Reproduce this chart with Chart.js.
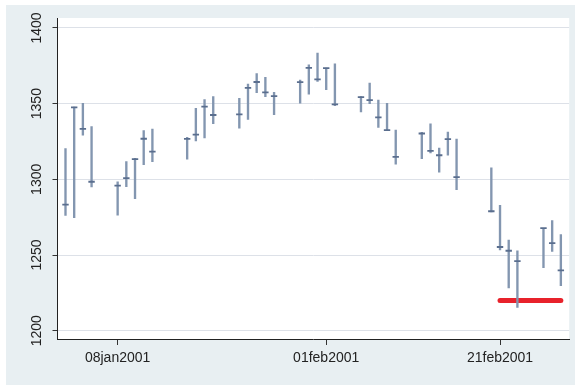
<!DOCTYPE html>
<html>
<head>
<meta charset="utf-8">
<script src="https://cdn.jsdelivr.net/npm/chart.js@4.4.1/dist/chart.umd.min.js"></script>
<style>
  html, body { margin: 0; padding: 0; background: #fff; }
  #wrap { position: absolute; left: 6px; top: 5px; width: 569px; height: 380px; background: #e8eff2; }
</style>
</head>
<body>
<div id="wrap"><canvas id="chart"></canvas></div>
<script>
// trading days, Jan-Feb 2001
const dates = [
  '2001-01-02', '2001-01-03', '2001-01-04', '2001-01-05',
  '2001-01-08', '2001-01-09', '2001-01-10', '2001-01-11', '2001-01-12',
  '2001-01-16', '2001-01-17', '2001-01-18', '2001-01-19',
  '2001-01-22', '2001-01-23', '2001-01-24', '2001-01-25', '2001-01-26',
  '2001-01-29', '2001-01-30', '2001-01-31', '2001-02-01', '2001-02-02',
  '2001-02-05', '2001-02-06', '2001-02-07', '2001-02-08', '2001-02-09',
  '2001-02-12', '2001-02-13', '2001-02-14', '2001-02-15', '2001-02-16',
  '2001-02-20', '2001-02-21', '2001-02-22', '2001-02-23',
  '2001-02-26', '2001-02-27', '2001-02-28'
];
const high = [
  1320.3, 1347.8, 1350.2, 1334.8,
  1298.4, 1311.7, 1313.8, 1332.2, 1333.2,
  1327.8, 1346.9, 1352.7, 1354.6,
  1353.6, 1362.9, 1369.8, 1367.4, 1357.5,
  1365.5, 1375.7, 1383.4, 1373.5, 1376.4,
  1354.6, 1363.6, 1352.3, 1350.3, 1332.5,
  1331.0, 1336.6, 1320.7, 1331.3, 1326.6,
  1307.6, 1282.8, 1259.9, 1252.8,
  1267.7, 1272.8, 1263.5
];
const low = [
  1276.1, 1274.6, 1329.1, 1295.0,
  1276.3, 1295.1, 1287.3, 1309.7, 1311.6,
  1313.3, 1325.4, 1327.4, 1336.7,
  1333.8, 1339.6, 1357.3, 1354.6, 1342.8,
  1350.4, 1356.2, 1364.7, 1359.3, 1348.7,
  1344.5, 1350.0, 1334.3, 1332.4, 1310.0,
  1313.6, 1317.5, 1304.7, 1315.9, 1293.2,
  1278.4, 1253.3, 1228.3, 1215.4,
  1241.7, 1252.3, 1229.7
];
const close = [
  1283.3, 1347.6, 1333.3, 1298.4,
  1295.9, 1300.8, 1313.3, 1326.8, 1318.3,
  1326.7, 1329.5, 1348.0, 1342.5,
  1342.9, 1360.4, 1364.3, 1357.5, 1355.0,
  1364.2, 1373.7, 1366.0, 1373.5, 1349.5,
  1354.3, 1352.3, 1340.9, 1332.5, 1314.8,
  1330.3, 1318.8, 1315.9, 1326.6, 1301.5,
  1278.9, 1255.3, 1252.8, 1245.9,
  1267.7, 1257.9, 1239.9
];
const yTicks = [1200, 1250, 1300, 1350, 1400];
const xTickDates = ['2001-01-08', '2001-02-01', '2001-02-21'];
const xTickLabels = ['08jan2001', '01feb2001', '21feb2001'];
const refLevel = 1220;
const refFrom = '2001-02-21';
const refTo = '2001-02-28';

const spikeColor = '#8396b0';
const tickColor = '#5a6e8e';
const font = 'Liberation Sans, Arial, Helvetica, sans-serif';
const dayOf = d => (Date.parse(d) - Date.parse('2001-01-02')) / 86400000;

const plotBg = {
  id: 'plotBg',
  beforeDraw(chart) {
    const { ctx, chartArea: a } = chart;
    ctx.save();
    ctx.fillStyle = '#ffffff';
    ctx.fillRect(a.left, a.top, a.right - a.left, a.bottom - a.top);
    ctx.restore();
  }
};

new Chart(document.getElementById('chart'), {
  type: 'bar',
  data: {
    datasets: [
      {
        type: 'line',
        data: [{ x: dayOf(refFrom), y: refLevel }, { x: dayOf(refTo), y: refLevel }],
        borderColor: '#e8222b',
        borderWidth: 5,
        borderCapStyle: 'round',
        pointRadius: 0,
        order: 3
      },
      {
        type: 'line',
        data: dates.map((d, i) => ({ x: dayOf(d), y: close[i] })),
        showLine: false,
        pointStyle: 'line',
        pointRadius: 3.2,
        pointBorderWidth: 1.8,
        pointBorderColor: tickColor,
        borderColor: tickColor,
        order: 1
      },
      {
        data: dates.map((d, i) => ({ x: dayOf(d), y: [low[i], high[i]] })),
        backgroundColor: spikeColor,
        barThickness: 1.7,
        grouped: false,
        order: 2
      }
    ]
  },
  options: {
    responsive: true,
    maintainAspectRatio: false,
    animation: false,
    layout: { padding: { left: 0, top: 13, right: 5, bottom: 0 } },
    plugins: { legend: { display: false }, tooltip: { enabled: false } },
    scales: {
      x: {
        type: 'linear',
        min: -0.92,
        max: 57.96,
        offset: false,
        afterBuildTicks: s => { s.ticks = xTickDates.map(d => ({ value: dayOf(d) })); },
        afterFit: s => { s.height = 46; },
        ticks: {
          autoSkip: false,
          maxRotation: 0,
          padding: 5,
          color: '#222',
          font: { family: font, size: 14 },
          callback: (v, i) => xTickLabels[i]
        },
        grid: { drawOnChartArea: false, tickLength: 6, tickColor: '#333', offset: false },
        border: { color: '#222', width: 1 }
      },
      y: {
        min: 1194.5,
        max: 1406.6,
        afterBuildTicks: s => { s.ticks = yTicks.map(v => ({ value: v })); },
        afterFit: s => { s.width = 51.5; },
        ticks: {
          minRotation: 90,
          maxRotation: 90,
          crossAlign: 'center',
          padding: 0,
          color: '#222',
          font: { family: font, size: 14 },
          callback: v => String(v)
        },
        grid: { color: '#dde1e8', lineWidth: 1, tickLength: 5, tickColor: '#333' },
        border: { color: '#222', width: 1 }
      }
    }
  },
  plugins: [plotBg]
});
</script>
</body>
</html>
